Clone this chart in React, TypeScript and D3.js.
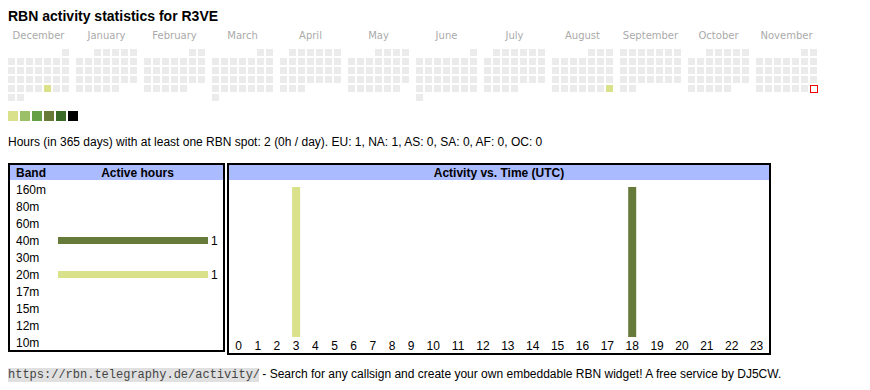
import React from "react";
import * as d3 from "d3";

// ---------- data ----------
const callsign = "R3VE";
const monthNames = ["December", "January", "February", "March", "April", "May", "June", "July", "August", "September", "October", "November"];
const periodStart = "2024-12-01";
const periodEnd = "2025-11-30"; // today (red outline)
const activeDays = ["2024-12-27", "2025-08-31"];
const activeDayHours = [1, 1];
const legendLevels = [1, 2, 3, 4, 5, 6];

const bands = ["160m", "80m", "60m", "40m", "30m", "20m", "17m", "15m", "12m", "10m"];
const bandHours = [0, 0, 0, 1, 0, 1, 0, 0, 0, 0];

const hourLabels = ["0", "1", "2", "3", "4", "5", "6", "7", "8", "9", "10", "11", "12", "13", "14", "15", "16", "17", "18", "19", "20", "21", "22", "23"];
const activeHours = [3, 18];
const activeHourBands = ["20m", "40m"];
const activeHourValues = [1, 1];

const summaryText = "Hours (in 365 days) with at least one RBN spot: 2 (0h / day). EU: 1, NA: 1, AS: 0, SA: 0, AF: 0, OC: 0";
const footerUrl = "https://rbn.telegraphy.de/activity/";
const footerText = " - Search for any callsign and create your own embeddable RBN widget! A free service by DJ5CW.";

// ---------- styles ----------
const legendColors = ["#d9e18a", "#9cc068", "#65a045", "#677a38", "#3a6a28", "#000000"];
const bandColor: Record<string, string> = { "20m": "#d9e18a", "40m": "#667a3a" };
const SANS = "'Liberation Sans', Arial, sans-serif";
const VERD = "'DejaVu Sans', Verdana, sans-serif";
const MONO = "'Liberation Mono', 'DejaVu Sans Mono', monospace";

export default function App() {
  const parse = d3.timeParse("%Y-%m-%d");
  const fmt = d3.timeFormat("%Y-%m-%d");
  const start = parse(periodStart)!;
  const end = parse(periodEnd)!;
  const days = d3.timeDay.range(start, d3.timeDay.offset(end, 1));
  const activeMap = new Map(activeDays.map((d, i) => [d, activeDayHours[i]]));

  const monthKeys = d3.range(12);
  const monthX = d3.scaleBand<number>().domain(monthKeys).range([8, 824]);
  const colX = d3.scaleBand<number>().domain(d3.range(7)).range([0, 61]).paddingInner(2 / 9);
  const rowY = d3.scaleBand<number>().domain(d3.range(6)).range([49, 101]).paddingInner(2 / 9);
  const levelColor = d3.scaleOrdinal<number, string>().domain(legendLevels).range(legendColors);
  const legendX = d3.scaleBand<number>().domain(legendLevels).range([8, 78]).paddingInner(2 / 12);

  const cells = days.map((d) => {
    const mi = d3.timeMonth.count(start, d);
    const ms = d3.timeMonth.floor(d);
    const row = d3.timeMonday.count(ms, d);
    const col = (d.getDay() + 6) % 7;
    const key = fmt(d);
    return {
      key,
      x: (monthX(mi) as number) + (colX(col) as number),
      y: rowY(row) as number,
      level: activeMap.get(key) || 0,
      today: key === periodEnd,
    };
  });

  // band table
  const bandY = d3.scaleBand<string>().domain(bands).range([181, 351]);
  const bandBarX = d3.scaleLinear().domain([0, d3.max(bandHours) || 1]).range([58, 208]);

  // hour chart
  const widths = hourLabels.map((l) => 13.5 + 5.7 * l.length);
  const cum = [0, ...d3.cumsum(widths)];
  const hourUnits = d3.scaleLinear().domain([0, cum[cum.length - 1]]).range([229, 769]);
  const hourCenter = (h: number) => hourUnits((cum[h] + cum[h + 1]) / 2);
  const hourY = d3.scaleLinear().domain([0, d3.max(activeHourValues) || 1]).range([337, 187]);

  return (
    <svg width={870} height={390} style={{ position: "absolute", left: 0, top: 0, display: "block" }}>
      <rect width={870} height={390} fill="#fff" />
      <text x={8} y={21} fontFamily={SANS} fontSize={14} fontWeight="bold" fill="#000">
        {`RBN activity statistics for ${callsign}`}
      </text>

      {monthNames.map((m, i) => (
        <text key={m} x={(monthX(i) as number) + 30.5} y={39} textAnchor="middle" fontFamily={VERD} fontSize={10} fill="#aaa">
          {m}
        </text>
      ))}

      {cells.map((c) =>
        c.today ? (
          <rect key={c.key} x={c.x + 0.5} y={c.y + 0.5} width={7} height={7} fill="#fff" stroke="#e00" strokeWidth={1} />
        ) : (
          <rect key={c.key} x={c.x} y={c.y} width={7} height={7} fill={c.level ? levelColor(c.level) : "#ebebeb"} />
        )
      )}

      {legendLevels.map((l) => (
        <rect key={l} x={legendX(l)} y={111} width={10} height={10} fill={levelColor(l)} />
      ))}

      <text x={8} y={146} fontFamily={SANS} fontSize={12} fill="#000">
        {summaryText}
      </text>

      {/* Band table */}
      <rect x={10} y={165} width={213} height={15} fill="#aabbff" />
      <rect x={9} y={164} width={215} height={187} fill="none" stroke="#000" strokeWidth={2} />
      <text x={16} y={177} fontFamily={SANS} fontSize={12} fontWeight="bold">Band</text>
      <text x={137.5} y={177} textAnchor="middle" fontFamily={SANS} fontSize={12} fontWeight="bold">Active hours</text>
      {bands.map((b, i) => {
        const cy = (bandY(b) as number) + bandY.bandwidth() / 2;
        return (
          <g key={b}>
            <text x={16} y={cy + 4} fontFamily={SANS} fontSize={12}>{b}</text>
            {bandHours[i] > 0 && (
              <>
                <rect x={bandBarX(0)} y={cy - 3.5} width={bandBarX(bandHours[i]) - bandBarX(0)} height={7} fill={bandColor[b]} />
                <text x={bandBarX(bandHours[i]) + 3} y={cy + 4} fontFamily={SANS} fontSize={12}>{bandHours[i]}</text>
              </>
            )}
          </g>
        );
      })}

      {/* Hour chart */}
      <rect x={229} y={165} width={540} height={15} fill="#aabbff" />
      <rect x={228} y={164} width={542} height={190} fill="none" stroke="#000" strokeWidth={2} />
      <text x={499} y={177} textAnchor="middle" fontFamily={SANS} fontSize={12} fontWeight="bold">Activity vs. Time (UTC)</text>
      {activeHours.map((h, i) => (
        <rect key={h} x={hourCenter(h) - 4} y={hourY(activeHourValues[i])} width={8} height={hourY(0) - hourY(activeHourValues[i])} fill={bandColor[activeHourBands[i]]} />
      ))}
      {hourLabels.map((l, h) => (
        <text key={l} x={hourCenter(h)} y={350} textAnchor="middle" fontFamily={SANS} fontSize={12}>{l}</text>
      ))}

      {/* footer */}
      <rect x={8} y={368} width={251} height={14} fill="#e0e0e0" />
      <text x={8} y={378} fontFamily={MONO} fontSize={12} fill="#444">{footerUrl}</text>
      <text x={259} y={378} fontFamily={SANS} fontSize={12} fill="#000" style={{ whiteSpace: "pre" }}>{footerText}</text>
    </svg>
  );
}
